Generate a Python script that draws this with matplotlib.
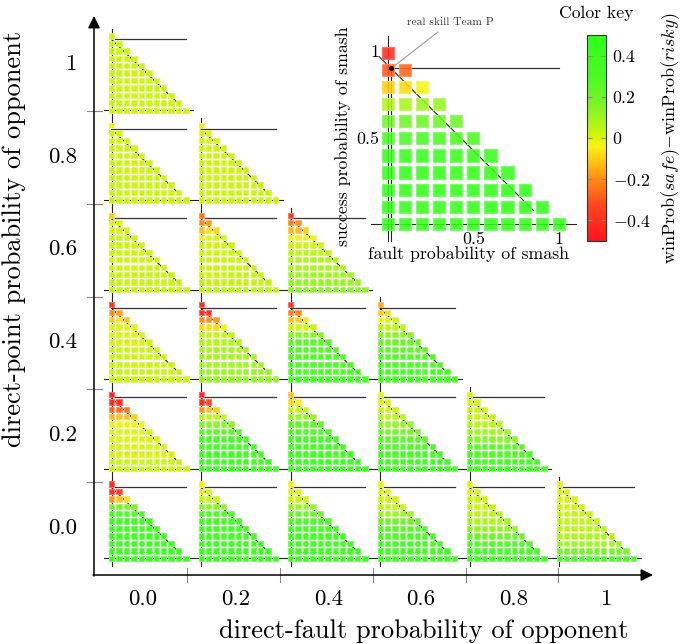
import numpy as np
import matplotlib
matplotlib.use('Agg')
import matplotlib.pyplot as plt
from matplotlib.colors import LinearSegmentedColormap, Normalize
from matplotlib.cm import ScalarMappable

plt.rcParams['font.family'] = ['cmr10', 'DejaVu Serif']
plt.rcParams['mathtext.fontset'] = 'cm'
plt.rcParams['axes.unicode_minus'] = False

W, H = 685, 644

# values, rows go from top (success 1) to bottom (success 0),
# a single number means the whole row has about the same colour
p10_f00 = [.02, .02, .02, .02, .02, .02, .02, .02, .02, .02, .02]
p08_f00 = [-.02, .01, .02, .02, .02, .02, .02, .02, .02, .02, .02]
p08_f02 = [-.06, 0, .01, .02, .02, .02, .02, .02, .02, .02, .02]
p06_f00 = [-.1, 0, .01, .02, .02, .02, .02, .02, .03, .03, .03]
p06_f02 = [-.25, [-.2, -.18], [-.12, -.08, -.08], [-.02, 0, 0, 0], .02, .02, .03, .03, .03, .04, .04]
p06_f04 = [-.38, [-.22, -.2], [-.13, -.13, -.1], -.02, .02, .05, .07, .08, .1, .12, .13]
p04_f00 = [-.4, [-.2, -.17], [-.1, -.07, -.12], 0, .01, .01, .02, .02, .02, .03, .03]
p04_f02 = [-.42, -.42, [-.2, -.2, -.18], [-.08, -.08, -.08, -.02], .04, .07, .08, .09, .1, .11, .12]
p04_f04 = [-.4, -.22, [-.12, -.1, -.07], .02, .15, .25, .28, .3, .32, .33, .35]
p04_f06 = [-.16, [-.1, -.08], [-.03, 0, .02], .05, .15, .2, .25, .3, .32, .34, .35]
p02_f00 = [-.45, -.42, [-.27, -.27, -.25], [-.13, -.12, -.12, -.1], -.02, 0, 0, .01, .01, .02, .03]
p02_f02 = [-.45, [-.42, -.35], [-.18, -.12, -.1], .05, .15, .25, .35, .36, .38, .38, .4]
p02_f04 = [-.12, [-.08, -.03], .03, .12, .25, .3, .34, .37, .38, .4, .4]
p02_f06 = [-.01, 0, .03, .05, .12, .18, .25, .3, .35, .38, .4]
p02_f08 = [0, 0, .02, .03, .06, .1, .15, .25, .3, .35, .4]
p00_f00 = [-.42, [-.42, -.38], [-.18, -.12, -.08], .18, .3, .4, .4, .42, .42, .42, .42]
p00_f02 = [-.02, 0, .03, .15, .3, .38, .4, .4, .42, .42, .42]
p00_f04 = [-.05, 0, .02, .12, .2, .3, .35, .4, .4, .42, .42]
p00_f06 = [-.02, 0, .02, .04, .1, .2, .27, .33, .37, .4, .4]
p00_f08 = [0, 0, .02, .03, .05, .08, .13, .2, .28, .35, .4]
p00_f10 = [0, 0, .01, .02, .03, .04, .05, .07, .1, .18, .3]
inset_vals = [-.42, [-.3, -.27], [-.1, -.08, -.03], [.07, .08, .1, .12], .2, .3, .42, .45, .45, .45, .45]

panel_rows = [
    [p10_f00],
    [p08_f00, p08_f02],
    [p06_f00, p06_f02, p06_f04],
    [p04_f00, p04_f02, p04_f04, p04_f06],
    [p02_f00, p02_f02, p02_f04, p02_f06, p02_f08],
    [p00_f00, p00_f02, p00_f04, p00_f06, p00_f08, p00_f10],
]
col_labels = ['0.0', '0.2', '0.4', '0.6', '0.8', '1']
row_labels = ['1', '0.8', '0.6', '0.4', '0.2', '0.0']

cmap_vals = [-.5, -.33, -.2, -.1, -.04, .02, .1, .2, .3, .5]
cmap_cols = ['#ff141e', '#ff461e', '#ff8c14', '#ffcd0f', '#faf514', '#cdf50a',
             '#9ef51e', '#6ef528', '#4bfa23', '#2dff19']

norm = Normalize(-.5, .5)
cmap = LinearSegmentedColormap.from_list('key', [((v + .5), c) for v, c in zip(cmap_vals, cmap_cols)])


def px_axes(x0, y_top, x1, y_bot):
    return fig.add_axes([x0 / W, 1 - y_bot / H, (x1 - x0) / W, (y_bot - y_top) / H])


def draw_triangle(ax, rows, size, lw, skill_y, diag, alpha):
    xs, ys, vs = [], [], []
    for i, row in enumerate(rows):
        for j in range(i + 1):
            xs.append(j / 10)
            ys.append(1 - i / 10)
            vs.append(row[j] if isinstance(row, list) and j < len(row) else (row[-1] if isinstance(row, list) else row))
    cols = cmap(norm(vs))[:, :3]
    edge = cols * .7 + .3
    ax.scatter(xs, ys, s=size, c=cols, edgecolors=edge, linewidths=lw, marker='s', alpha=alpha, zorder=3, clip_on=False)
    ax.plot([-.1, 1.1], [0, 0], color='#222222', lw=.8, zorder=1, clip_on=False)
    ax.plot([0, 0], [-.1, 1.1], color='#222222', lw=.8, zorder=1, clip_on=False)
    ax.plot([0, 1], [skill_y, skill_y], color='#333333', lw=.9, zorder=1, clip_on=False)
    ax.plot(diag[0], diag[1], color='#222222', lw=.8, zorder=1, clip_on=False)
    ax.set_xlim(-.1, 1.1)
    ax.set_ylim(-.1, 1.1)
    ax.axis('off')


fig = plt.figure(figsize=(W / 100, H / 100), dpi=100)

# overlay in pixels for the big axes and the text
bg = fig.add_axes([0, 0, 1, 1])
bg.set_xlim(0, W)
bg.set_ylim(H, 0)
bg.axis('off')

bg.annotate('', xy=(94, 16), xytext=(94, 576), arrowprops=dict(arrowstyle='-|>', color='black', lw=1.1, mutation_scale=18, shrinkA=0, shrinkB=0))
bg.annotate('', xy=(653, 575), xytext=(93, 575), arrowprops=dict(arrowstyle='-|>', color='black', lw=1.1, mutation_scale=18, shrinkA=0, shrinkB=0))
for i in range(5):
    bg.plot([187.3 + i * 92.8] * 2, [568, 582], color='#888888', lw=.8)
    bg.plot([87, 102], [111 + i * 92.8] * 2, color='#888888', lw=.8)
for i, lab in enumerate(col_labels):
    bg.text(142.7 + i * 92.8, 599, lab, ha='center', va='center', fontsize=16.5)
for i, lab in enumerate(row_labels):
    bg.text(77, 64 + i * 92.8, lab, ha='right', va='center', fontsize=16.5)
bg.text(424, 631, 'direct-fault probability of opponent', ha='center', va='center', fontsize=19)
bg.text(14, 239, 'direct-point probability of opponent', ha='center', va='center', rotation=90, fontsize=19)

bg.text(450.7, 22.7, 'real skill Team P', ha='center', va='center', fontsize=8.3, color='#333333')
bg.plot([393.3, 438], [66.7, 32], color='#999999', lw=.8)
bg.text(596, 13, 'Color key', ha='center', va='center', fontsize=12.7)
bg.text(469, 254, 'fault probability of smash', ha='center', va='center', fontsize=12.8)
bg.text(343, 136, 'success probability of smash', ha='center', va='center', rotation=90, fontsize=12.8)
bg.text(474, 239, '0.5', ha='center', va='center', fontsize=12.8)
bg.text(558.7, 239, '1', ha='center', va='center', fontsize=12.8)
bg.text(368, 139, '0.5', ha='center', va='center', fontsize=12.8)
bg.text(375, 52, '1', ha='center', va='center', fontsize=12.8)
bg.text(671, 138, r'$\mathrm{winProb}(\mathit{safe}){-}\mathrm{winProb}(\mathit{risky})$',
        ha='center', va='center', rotation=90, fontsize=13)

# small panels
unit = 74.3
for r, rows in enumerate(panel_rows):
    y0 = 110.3 + r * 89.6
    for c, vals in enumerate(rows):
        x0 = 111.7 + c * 89.5
        ax = px_axes(x0 - .1 * unit, y0 - 1.1 * unit, x0 + 1.1 * unit, y0 + .1 * unit)
        draw_triangle(ax, vals, 15, .7, .96, ([0, .92], [.95, .07]), .97)

# big panel
unit = 171.3
x0, y0 = 387.7, 224
ax = px_axes(x0 - .1 * unit, y0 - 1.1 * unit, x0 + 1.1 * unit, y0 + .1 * unit)
draw_triangle(ax, inset_vals, 78, .9, .91, ([-.05, .85], [.977, .08]), .88)
ax.plot([.018, .018], [-.1, .91], color='#222222', lw=.8, zorder=1, clip_on=False)
ax.plot([.018], [.91], 'o', color='black', ms=2.5, zorder=5)
ax.annotate('', xy=(0, 1.13), xytext=(0, 1.05), arrowprops=dict(arrowstyle='-|>', color='#222222', lw=.7, mutation_scale=6, shrinkA=0, shrinkB=0))
ax.annotate('', xy=(1.13, 0), xytext=(1.05, 0), arrowprops=dict(arrowstyle='-|>', color='#222222', lw=.7, mutation_scale=6, shrinkA=0, shrinkB=0))

# color key
cax = px_axes(587.3, 35.3, 605.7, 241)
cb = fig.colorbar(ScalarMappable(norm=norm, cmap=cmap), cax=cax, ticks=[-.4, -.2, 0, .2, .4])
cb.ax.set_yticklabels([r'$-0.4$', r'$-0.2$', '0', '0.2', '0.4'], fontsize=12.8)
cb.ax.tick_params(direction='in', length=3.5, width=.8, color='#888888', left=True, right=True, pad=5)
cb.outline.set_linewidth(.8)
cb.outline.set_edgecolor('#333333')

fig.savefig('out.png', dpi=100)
